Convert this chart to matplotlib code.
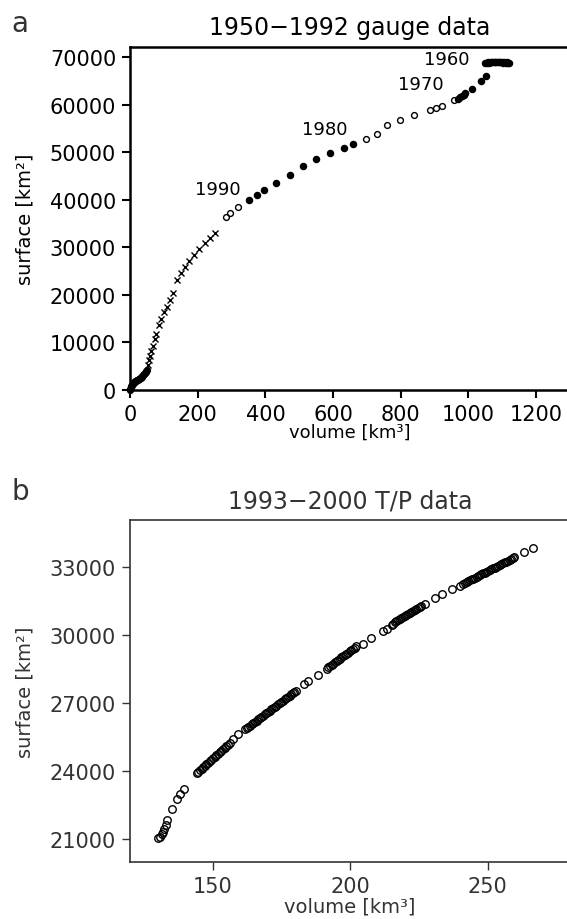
import matplotlib
matplotlib.use("Agg")
import matplotlib.pyplot as plt

plt.rcParams['font.family'] = ['DejaVu Sans']

# ---- panel a : 1950-1992 gauge data ----
# dense filled points near the origin
orig_vol = [0, 1, 2, 3, 4, 5, 6, 8, 10, 12, 14, 16, 18, 20, 22, 24, 26, 28, 30,
            32, 34, 36, 38, 40, 42, 44, 46, 48, 50]
orig_surf = [0, 250, 500, 700, 850, 1000, 1100, 1300, 1450, 1580, 1700, 1800, 1900,
             2000, 2100, 2200, 2300, 2400, 2500, 2600, 2750, 2900, 3100, 3300, 3450,
             3600, 3750, 3950, 4200]

cross_vol = [52, 55, 58.2, 63, 67, 73, 77.8, 84.6, 91.6, 99.5, 109, 118, 128, 139,
             150.7, 163, 175, 189, 204.8, 220.6, 236, 252]
cross_surf = [5263, 6316, 7158, 8210, 9263, 10674, 11726, 13621, 15032, 16358, 17558,
              18947, 20505, 23095, 24716, 25895, 27158, 28358, 29621, 30884, 31937, 32990]

open90_vol = [283.6, 295.4, 320]
open90_surf = [36421, 37200, 38526]

fill80_vol = [352.5, 374, 396, 432, 473.6, 510, 549.5, 590, 631, 660]
fill80_surf = [40084, 41137, 42042, 43516, 45347, 47095, 48632, 49895, 51030, 51874]

open70_vol = [696, 729, 760, 797.6, 838, 886, 903, 921, 957]
open70_surf = [52926, 53895, 55726, 56842, 57895, 59032, 59450, 59800, 60989]

fill60_vol = [969, 975, 980, 986, 990, 1011, 1037, 1051.7,
              1050, 1054, 1058, 1062, 1066, 1070, 1074, 1078, 1082, 1086, 1090,
              1094, 1098, 1102, 1106, 1110, 1114, 1118, 1121]
fill60_surf = [61300, 61600, 61900, 62200, 62463, 63452, 65053, 66105,
               68850, 68900, 68950, 68900, 68950, 69000, 68950, 69000, 68950, 69000,
               68950, 69000, 68950, 68900, 68950, 68900, 68950, 68900, 68900]

decade_labels = ['1960', '1970', '1980', '1990']
decade_x = [936, 860, 576, 260]
decade_y = [69620, 64358, 54885, 42253]

# ---- panel b : 1993-2000 T/P data ----
tp_vol = [130.3, 131.0, 131.5, 132.0, 132.5, 133.0, 133.3, 135.2, 137.2, 138.2, 139.8,
          144.2, 144.8, 145.4, 146.0, 146.6, 147.2, 147.8, 148.4, 149.0, 149.6, 150.2,
          150.8, 151.4, 152.0, 152.6, 153.2, 153.8, 154.4, 155.0, 155.6, 156.2,
          157.6, 159.4,
          161.8, 162.4, 163.0, 163.6, 164.2, 164.8, 165.4, 166.0, 166.6, 167.2, 167.8,
          168.4, 169.0, 169.6, 170.2, 170.8, 171.4, 172.0, 172.6, 173.2, 173.8, 174.4,
          175.0, 175.6, 176.2, 176.8, 177.4, 178.0, 178.6, 179.2, 179.8, 180.4,
          183.4, 184.8, 188.5,
          191.5, 192.1, 192.7, 193.3, 193.9, 194.5, 195.1, 195.7, 196.3, 196.9, 197.5,
          198.1, 198.7, 199.3, 199.9, 200.5, 201.1, 201.7, 202.3,
          204.8, 207.5, 212.1, 213.3,
          215.1, 215.7, 216.3, 216.9, 217.5, 218.1, 218.7, 219.3, 219.9, 220.5, 221.1,
          221.7, 222.3, 222.9, 223.5, 224.1, 224.7, 225.3, 225.9,
          227.3, 230.9, 233.3, 237.0, 240.0,
          241.2, 241.8, 242.4, 243.0, 243.6, 244.2, 244.8, 245.4, 246.0, 246.6, 247.2,
          247.8, 248.4, 249.0, 249.6, 250.2, 250.8, 251.4, 252.0, 252.6, 253.2, 253.8,
          254.4, 255.0, 255.6, 256.2, 256.8, 257.4, 258.0, 258.6, 259.2, 259.8,
          263.4, 266.4]
tp_surf = [21044, 21120, 21220, 21330, 21470, 21650, 21848, 22318, 22788, 22977, 23197,
           23900, 23966, 24033, 24100, 24166, 24232, 24299, 24365, 24431, 24498, 24564,
           24631, 24697, 24763, 24830, 24896, 24962, 25029, 25095, 25161, 25228,
           25394, 25614,
           25833, 25888, 25943, 25998, 26054, 26109, 26164, 26219, 26274, 26329, 26384,
           26439, 26494, 26549, 26605, 26660, 26715, 26770, 26825, 26880, 26935, 26990,
           27045, 27100, 27155, 27210, 27266, 27321, 27376, 27431, 27486, 27541,
           27855, 27955, 28250,
           28514, 28568, 28622, 28676, 28730, 28784, 28838, 28892, 28946, 29000, 29053,
           29107, 29161, 29215, 29269, 29323, 29377, 29431, 29485,
           29612, 29862, 30183, 30260,
           30447, 30493, 30540, 30586, 30632, 30678, 30725, 30771, 30817, 30863, 30910,
           30956, 31002, 31048, 31095, 31141, 31187, 31233, 31280,
           31370, 31620, 31795, 32015, 32160,
           32250, 32287, 32325, 32362, 32399, 32436, 32474, 32511, 32548, 32586, 32623,
           32660, 32697, 32735, 32772, 32809, 32847, 32884, 32921, 32958, 32996, 33033,
           33070, 33108, 33145, 33182, 33219, 33257, 33294, 33331, 33368, 33406,
           33640, 33815]

W, H = 567, 920
fig = plt.figure(figsize=(W / 100, H / 100), dpi=100)

def box(l, t, r, b):
    return [l / W, 1 - b / H, (r - l) / W, (b - t) / H]

# top panel
ax1 = fig.add_axes(box(130, 48, 570, 391))
ax1.plot(orig_vol, orig_surf, 'o', color='k', ms=4.2, clip_on=False)
ax1.plot(cross_vol, cross_surf, 'x', color='k', ms=3.8, mew=1.0)
ax1.plot(open90_vol, open90_surf, 'o', mfc='none', mec='k', ms=4.2, mew=1.0)
ax1.plot(fill80_vol, fill80_surf, 'o', color='k', ms=4.4)
ax1.plot(open70_vol, open70_surf, 'o', mfc='none', mec='k', ms=4.2, mew=1.0)
ax1.plot(fill60_vol, fill60_surf, 'o', color='k', ms=4.4)
for lab, x, y in zip(decade_labels, decade_x, decade_y):
    ax1.text(x, y, lab, ha='center', va='center', fontsize=13)
ax1.set_xlim(0, 1300)
ax1.set_ylim(0, 72200)
ax1.set_xticks(range(0, 1201, 200))
ax1.set_yticks(range(0, 70001, 10000))
ax1.tick_params(direction='out', length=6, width=1.5, labelsize=15, pad=4)
for s in ax1.spines.values():
    s.set_linewidth(1.8)
ax1.set_title('1950\u22121992 gauge data', fontsize=17, pad=9)
fig.text(350 / W, 1 - 433 / H, 'volume [km\u00b3]', ha='center', va='center', fontsize=13)
fig.text(25 / W, 1 - 219 / H, 'surface [km\u00b2]', ha='center', va='center',
         rotation=90, fontsize=14)
fig.text(20 / W, 1 - 24 / H, 'a', ha='center', va='center', fontsize=20, color='#333')

# bottom panel
grey = '#333333'
ax2 = fig.add_axes(box(130, 521, 570, 863))
ax2.plot(tp_vol, tp_surf, 'o', mfc='none', mec='k', ms=5.4, mew=1.0)
ax2.set_xlim(120, 280)
ax2.set_ylim(20000, 35050)
ax2.set_xticks([150, 200, 250])
ax2.set_yticks([21000, 24000, 27000, 30000, 33000])
ax2.tick_params(direction='out', length=6, width=1.0, labelsize=15, pad=4,
                colors=grey)
for s in ax2.spines.values():
    s.set_linewidth(1.2)
    s.set_color(grey)
ax2.set_title('1993\u22122000 T/P data', fontsize=17, pad=9, color=grey)
fig.text(350 / W, 1 - 907 / H, 'volume [km\u00b3]', ha='center', va='center',
         fontsize=14, color=grey)
fig.text(25 / W, 1 - 692 / H, 'surface [km\u00b2]', ha='center', va='center',
         rotation=90, fontsize=14, color=grey)
fig.text(20 / W, 1 - 492 / H, 'b', ha='center', va='center', fontsize=20, color=grey)

fig.savefig('out.png', dpi=100)
